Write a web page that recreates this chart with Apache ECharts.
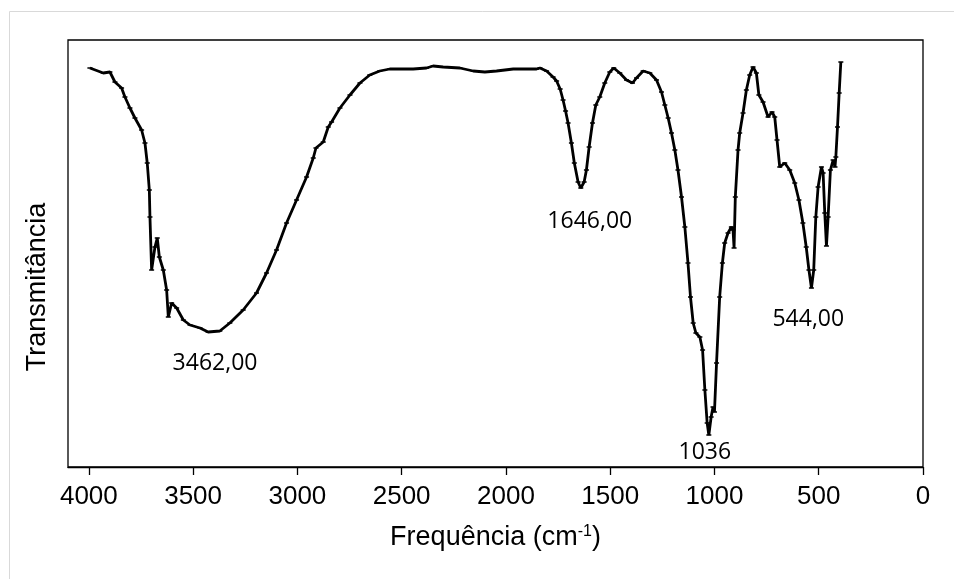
<!DOCTYPE html>
<html lang="pt">

<head>
    <meta charset="UTF-8">
    <title>Espectro FTIR</title>
    <script src="https://cdn.jsdelivr.net/npm/echarts@6.0.0/dist/echarts.min.js"></script>
</head>

<body style="margin:0;background:#fff">

    <div id='main' style="width: 954px;height: 579px;"></div>

    <script>
        // numero de onda (cm-1)
        var frequencia = [3995, 3931, 3899, 3875, 3843, 3827, 3803, 3779, 3747, 3731, 3720, 3710, 3707, 3699, 3683, 3672, 3662, 3643, 3627, 3619,
            3603, 3579, 3547, 3515, 3467, 3428, 3372, 3324, 3260, 3196, 3148, 3100, 3052, 3004, 2956, 2924, 2911, 2876, 2852, 2836,
            2796, 2748, 2700, 2653, 2605, 2557, 2445, 2381, 2349, 2301, 2221, 2157, 2101, 2045, 1965, 1853, 1837, 1805, 1774, 1757,
            1740, 1726, 1714, 1702, 1686, 1672, 1654, 1641, 1625, 1614, 1601, 1585, 1569, 1550, 1526, 1502, 1483, 1454, 1422, 1393,
            1374, 1342, 1310, 1278, 1254, 1238, 1222, 1206, 1190, 1175, 1158, 1142, 1127, 1115, 1102, 1089, 1070, 1057, 1046, 1035,
            1027, 1016, 1007, 1000, 990, 975, 962, 951, 935, 919, 911, 906, 900, 887, 879, 863, 847, 831, 815, 799,
            787, 767, 743, 724, 711, 700, 687, 663, 639, 615, 595, 576, 560, 547, 535, 524, 514, 503, 487, 479,
            471, 463, 455, 444, 431, 422, 418, 410, 402, 394];
        // transmitancia (unidades arbitrarias)
        var transmitancia = [399, 394, 395, 385, 379, 370, 359, 349, 337, 324, 304, 277, 250, 197, 220, 229, 210, 197, 177, 150,
            164, 159, 147, 142, 139, 135, 136, 144, 157, 174, 194, 217, 244, 267, 290, 309, 319, 325, 340, 345,
            359, 372, 384, 392, 396, 398, 398, 399, 401, 400, 399, 396, 395, 396, 398, 398, 399, 396, 390, 386,
            378, 367, 356, 344, 324, 304, 285, 279, 285, 297, 320, 344, 362, 370, 384, 395, 399, 394, 387, 384,
            389, 396, 394, 387, 375, 362, 349, 334, 317, 297, 270, 240, 204, 170, 144, 134, 130, 117, 77, 44,
            32, 50, 60, 55, 104, 170, 204, 224, 234, 240, 237, 219, 270, 317, 334, 354, 377, 392, 400, 394,
            372, 365, 350, 355, 350, 327, 300, 304, 297, 284, 267, 244, 220, 197, 179, 197, 250, 280, 300, 294,
            254, 221, 250, 297, 307, 300, 310, 340, 374, 405];
        var ticksX = [4000, 3500, 3000, 2500, 2000, 1500, 1000, 500, 0];
        var picos = ['3462,00', '1646,00', '1036', '544,00'];

        var pontos = [];
        for (var i = 0; i < frequencia.length; i++) {
            pontos.push([frequencia[i], transmitancia[i]]);
        }

        // onde cada rotulo fica (coordenadas do grafico)
        var posRotulos = [[3395, 104], [1598, 246], [1046, 15], [550, 148]];
        var marcas = [];
        for (var j = 0; j < picos.length; j++) {
            marcas.push({ name: picos[j], coord: posRotulos[j] });
        }

        var myChart = echarts.init(document.getElementById('main'));
        var option = {
            animation: false,
            graphic: [
                {
                    type: 'rect',
                    shape: { x: 9.5, y: 11.5, width: 960, height: 600 },
                    style: { fill: 'none', stroke: '#d9d9d9', lineWidth: 1 }
                },
                {
                    type: 'text',
                    x: 38, y: 287,
                    rotation: Math.PI / 2,
                    style: {
                        text: 'Transmitância',
                        font: '27px "Liberation Sans"',
                        fill: '#000',
                        align: 'center',
                        verticalAlign: 'middle'
                    }
                }
            ],
            grid: {
                left: 68, right: 31, top: 40, bottom: 112,
                show: true,
                borderColor: '#000',
                borderWidth: 1.3
            },
            xAxis: {
                type: 'value',
                inverse: true,
                min: 0,
                max: 4100,
                interval: 500,
                name: 'Frequência (cm{sup|-1})',
                nameLocation: 'middle',
                nameGap: 57,
                nameTextStyle: {
                    fontFamily: 'Liberation Sans',
                    fontSize: 27,
                    color: '#000',
                    rich: {
                        sup: { fontFamily: 'Liberation Sans', fontSize: 16, color: '#000', verticalAlign: 'top', padding: [0, 0, 12, 0] }
                    }
                },
                axisLine: { lineStyle: { color: '#000', width: 1.3 } },
                axisTick: { show: true, length: 8, customValues: ticksX, lineStyle: { color: '#000', width: 1.3 } },
                axisLabel: {
                    customValues: ticksX,
                    margin: 17,
                    fontFamily: 'Liberation Sans',
                    fontSize: 26,
                    color: '#000',
                    formatter: function (v) { return String(v); }
                },
                splitLine: { show: false }
            },
            yAxis: {
                type: 'value',
                min: 0,
                max: 427,
                axisLine: { show: false },
                axisTick: { show: false },
                axisLabel: { show: false },
                splitLine: { show: false }
            },
            series: [{
                name: 'FTIR',
                type: 'line',
                data: pontos,
                showSymbol: true,
                symbol: 'rect',
                symbolSize: [5, 1.5],
                itemStyle: { color: '#000' },
                lineStyle: { color: '#000', width: 2.8 },
                markPoint: {
                    symbol: 'rect',
                    symbolSize: 1,
                    itemStyle: { color: 'rgba(0,0,0,0)' },
                    label: {
                        show: true,
                        position: 'inside',
                        formatter: '{b}',
                        fontFamily: 'Open Sans',
                        fontSize: 23,
                        color: '#000'
                    },
                    data: marcas
                }
            }]
        };
        myChart.setOption(option);
    </script>
</body>

</html>
